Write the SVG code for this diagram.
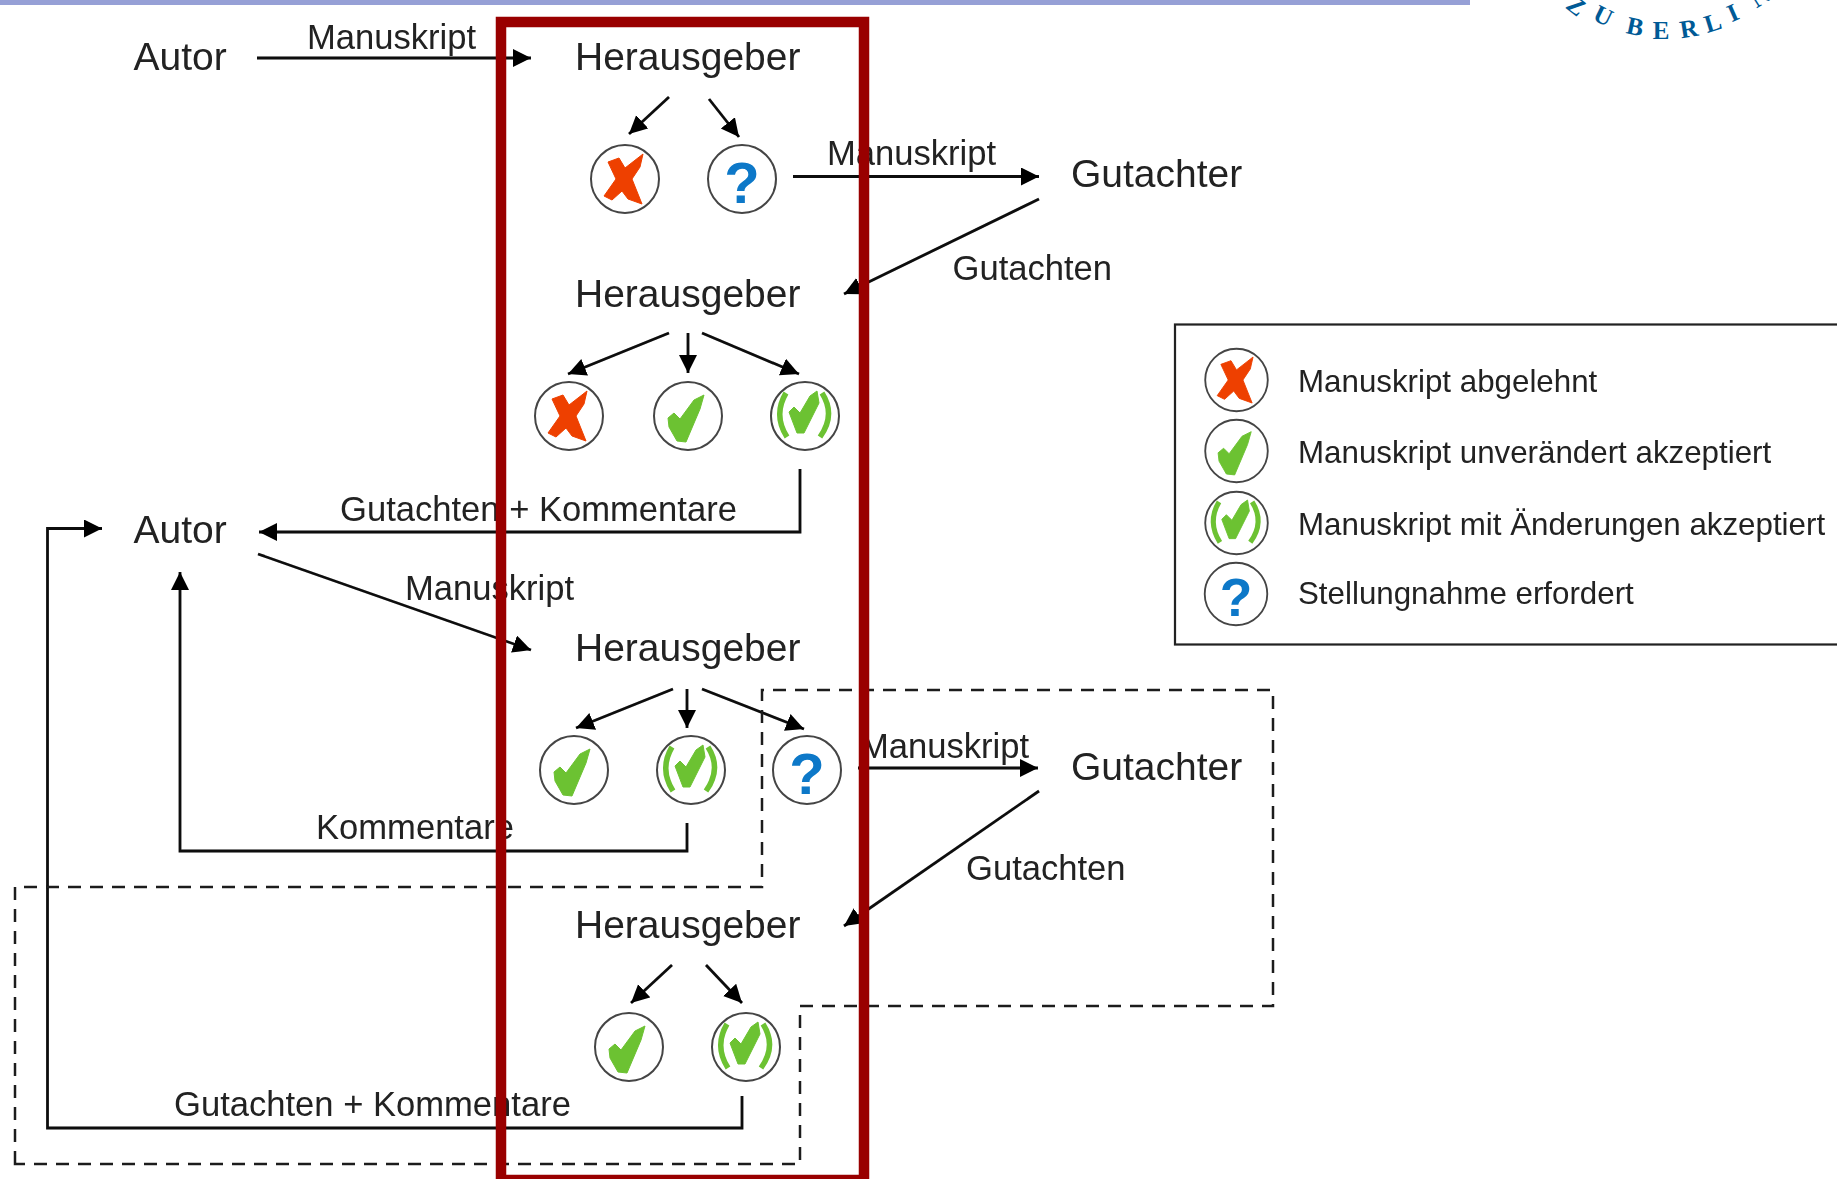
<svg xmlns="http://www.w3.org/2000/svg" width="1837" height="1179" viewBox="0 0 1837 1179">
<style>
text{font-family:"Liberation Sans",Arial,sans-serif;fill:#222}
.n{font-size:39px}
.l{font-size:34.600px}
.g{font-size:31.300px}
.c{fill:#fff;stroke:#444;stroke-width:2}
.w{fill:none;stroke:#0a0a0a;stroke-width:2.800}
.a{marker-end:url(#arrow)}
.d{fill:none;stroke:#1a1a1a;stroke-width:2.500;stroke-dasharray:13 9}
.q{font-size:58px;font-weight:bold;fill:#0a78c8;text-anchor:middle}
.z{font-family:"Liberation Serif",serif;font-size:25px;fill:#005a96;text-anchor:middle;font-weight:bold}
.x{fill:#ee4000;stroke:#ee4000;stroke-width:1;stroke-linejoin:round}
.k{fill:#6cc232;stroke:#6cc232;stroke-width:1;stroke-linejoin:round}
</style>
<defs>
<filter id="soft" x="-2%" y="-2%" width="104%" height="104%"><feGaussianBlur stdDeviation="0.55"/></filter>
<marker id="arrow" markerUnits="userSpaceOnUse" markerWidth="19" markerHeight="19" refX="18" refY="9" orient="auto"><path d="M0,0 L18,9 L0,18 Z" fill="#000"/></marker>
<g id="ix"><circle class="c" r="34"/><path class="x" d="M-17,-17 L-6,-21 L0,-11 L18,-25 L15,-12 L7,0 L17,25 L3,20 L-3,12 L-13,21 L-21,17 L-9,0 Z"/></g>
<g id="ik"><circle class="c" r="34"/><path class="k" d="M-20,2 L-14,-3 L-8,3 L6,-16 L16,-21 L12,-7 L-2,26 L-11,25 L-19,11 Z"/></g>
<g id="ib"><circle class="c" r="34"/><path class="k" d="M-16,-4 L-11,-9 L-5,-3 L5,-20 L12,-25 L14,-13 L-1,17 L-8,17 Z"/><path fill="none" stroke="#6cc232" stroke-width="5.500" d="M-19,-23 Q-32,-1 -18,21 M17,-23 Q31,-1 15,21"/></g>
<g id="iq"><circle class="c" r="34"/><text class="q" y="24">?</text></g>
</defs>
<rect width="1837" height="1179" fill="#fff"/>
<rect id="topbar" width="1470" height="5" fill="#96a0d6"/>
<g id="logo">
<text class="z" transform="translate(1576,6) rotate(38)" y="8">Z</text>
<text class="z" transform="translate(1603,16) rotate(26)" y="8">U</text>
<text class="z" transform="translate(1635,27) rotate(12)" y="8">B</text>
<text class="z" transform="translate(1661,31) rotate(0)" y="8">E</text>
<text class="z" transform="translate(1689,29) rotate(-9)" y="8">R</text>
<text class="z" transform="translate(1713,23) rotate(-17)" y="8">L</text>
<text class="z" transform="translate(1733,13) rotate(-24)" y="8">I</text>
<text class="z" transform="translate(1760,-3) rotate(-32)" y="8">N</text>
</g>
<g filter="url(#soft)">
<g id="connectors">
<path class="w a" d="M257,58 L531,58"/>
<path class="w a" d="M669,97 L629,134"/>
<path class="w a" d="M709,99 L739,137"/>
<path class="w a" d="M793,176.500 L1039,176.500"/>
<path class="w a" d="M1039,199 L844,294"/>
<path class="w a" d="M669,333 L568,374"/>
<path class="w a" d="M688,333 L688,373"/>
<path class="w a" d="M702,333 L799,374"/>
<path class="w a" d="M800,469 L800,532 L259,532"/>
<path class="w a" d="M258,554 L531,650"/>
<path class="w a" d="M687,823 L687,851 L180,851 L180,572"/>
<path class="w a" d="M742,1096 L742,1128 L47.500,1128 L47.500,528.500 L102,528.500"/>
<path class="w a" d="M673,689 L576,728"/>
<path class="w a" d="M687,689 L687,728"/>
<path class="w a" d="M702,689 L804,729"/>
<path class="w a" d="M858,768 L1038,768"/>
<path class="w a" d="M1039,791 L844,926"/>
<path class="w a" d="M672,965 L631,1003"/>
<path class="w a" d="M706,965 L742,1003"/>
<path class="d" d="M15,1164 L15,887 L762,887 L762,690 L1273,690 L1273,1006 L800,1006 L800,1164 Z"/>
</g>
<g id="autor1"><text class="n" x="133.500" y="70">Autor</text></g>
<g id="autor2"><text class="n" x="133.500" y="543">Autor</text></g>
<g id="herausgeber1"><text class="n" x="575" y="69.500">Herausgeber</text></g>
<g id="herausgeber2"><text class="n" x="575" y="306.500">Herausgeber</text></g>
<g id="herausgeber3"><text class="n" x="575" y="660.500">Herausgeber</text></g>
<g id="herausgeber4"><text class="n" x="575" y="937.500">Herausgeber</text></g>
<g id="gutachter1"><text class="n" x="1071" y="187">Gutachter</text></g>
<g id="gutachter2"><text class="n" x="1071" y="779.500">Gutachter</text></g>
<g id="labels">
<text class="l" x="307" y="48.500">Manuskript</text>
<text class="l" x="827" y="165">Manuskript</text>
<text class="l" x="952.500" y="280">Gutachten</text>
<text class="l" x="340" y="521">Gutachten + Kommentare</text>
<text class="l" x="405" y="600">Manuskript</text>
<text class="l" x="860" y="758">Manuskript</text>
<text class="l" x="316" y="839">Kommentare</text>
<text class="l" x="966" y="880">Gutachten</text>
<text class="l" x="174" y="1116">Gutachten + Kommentare</text>
</g>
<g id="state1a"><use href="#ix" x="625" y="179"/></g>
<g id="state1b"><use href="#iq" x="742" y="179"/></g>
<g id="state2a"><use href="#ix" x="569" y="416"/></g>
<g id="state2b"><use href="#ik" x="688" y="416"/></g>
<g id="state2c"><use href="#ib" x="805" y="416"/></g>
<g id="state3a"><use href="#ik" x="574" y="770"/></g>
<g id="state3b"><use href="#ib" x="691" y="770"/></g>
<g id="state3c"><use href="#iq" x="807" y="770"/></g>
<g id="state4a"><use href="#ik" x="629" y="1047"/></g>
<g id="state4b"><use href="#ib" x="746" y="1047"/></g>
<g id="legend">
<rect x="1175" y="324.500" width="680" height="320" fill="none" stroke="#222" stroke-width="2.200"/>
<use href="#ix" transform="translate(1236.500,380) scale(.92)"/>
<use href="#ik" transform="translate(1236.500,451) scale(.92)"/>
<use href="#ib" transform="translate(1236.500,523) scale(.92)"/>
<use href="#iq" transform="translate(1236,594) scale(.92)"/>
<text class="g" x="1298" y="392">Manuskript abgelehnt</text>
<text class="g" x="1298" y="463">Manuskript unverändert akzeptiert</text>
<text class="g" x="1298" y="535">Manuskript mit Änderungen akzeptiert</text>
<text class="g" x="1298" y="604">Stellungnahme erfordert</text>
</g>
</g>
<rect id="highlight" x="501" y="22" width="363" height="1158" fill="none" stroke="#990000" stroke-width="10.500"/>
</svg>
